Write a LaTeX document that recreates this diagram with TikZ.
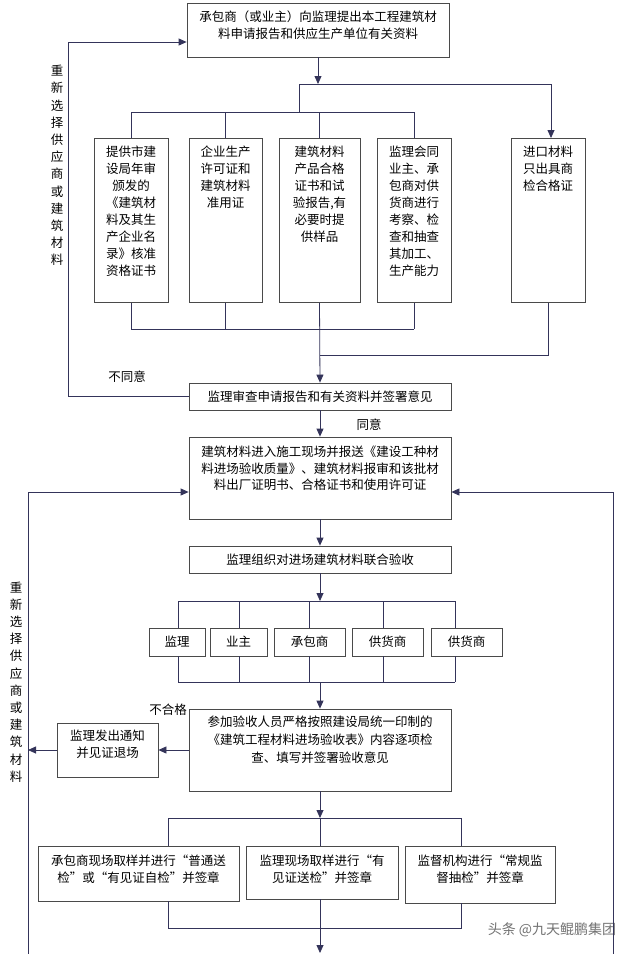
\documentclass[tikz,border=0pt]{standalone}
\usepackage{fontspec}
\newfontfamily\cjk{Noto Sans CJK SC}
\usetikzlibrary{positioning,arrows.meta}

\definecolor{linec}{HTML}{34345A}
\definecolor{boxc}{HTML}{4A4A4A}

\tikzset{
    box/.style={draw=boxc, line width=0.8pt, inner sep=0pt, align=center,
        font=\cjk\fontsize{12.5}{16.5}\selectfont},
    txt/.style={inner sep=0pt, align=center, font=\cjk\fontsize{12.5}{16.5}\selectfont},
    talltxt/.style={txt, font=\cjk\fontsize{12.5}{17}\selectfont},
    vtxt/.style={txt, font=\cjk\fontsize{12.5}{17.2}\selectfont},
    line/.style={draw=linec, line width=0.8pt},
    arr/.style={line, -{Triangle[length=8pt,width=7pt]}}
}

\begin{document}
\begin{tikzpicture}[x=1pt, y=-1pt]
    \fill[white] (0,0) rectangle (636,954);
    \useasboundingbox (0,0) rectangle (636,954);

    % application
    \node[box, minimum width=262, minimum height=54] (apply) at (318,30) {};
    \node[txt, below=8pt of apply.north] {承包商（或业主）向监理提出本工程建筑材\\料申请报告和供应生产单位有关资料};

    % documents to hand in
    \foreach \n/\x/\w in {p1/131/74, p2/225.5/73, p3/319.5/81, p4/414/74, p5/548/74} {
        \node[box, minimum width=\w, minimum height=164, anchor=north] (\n) at (\x,138) {};
    }
    \node[talltxt, below=8pt of p1.north] {提供市建\\设局年审\\颁发的\\《建筑材\\料及其生\\产企业名\\录》核准\\资格证书};
    \node[talltxt, below=8pt of p2.north] {企业生产\\许可证和\\建筑材料\\准用证};
    \node[talltxt, below=8pt of p3.north] {建筑材料\\产品合格\\证书和试\\验报告,有\\必要时提\\供样品};
    \node[talltxt, below=8pt of p4.north] {监理会同\\业主、承\\包商对供\\货商进行\\考察、检\\查和抽查\\其加工、\\生产能力};
    \node[talltxt, below=8pt of p5.north] {进口材料\\只出具商\\检合格证};

    % review
    \node[box, minimum width=262, minimum height=27] (review) at (320,396.5) {监理审查申请报告和有关资料并签署意见};
    \node[txt] at (127,377) {不同意};
    \node[txt] at (369,425) {同意};

    % entering the site
    \node[box, minimum width=262, minimum height=82] (enter) at (320,478) {};
    \node[txt, below=9.5pt of enter.north] {建筑材料进入施工现场并报送《建设工种材\\料进场验收质量》、建筑材料报审和该批材\\料出厂证明书、合格证书和使用许可证};

    \node[box, minimum width=262, minimum height=27] (joint) at (320,559.5) {监理组织对进场建筑材料联合验收};

    % parties
    \node[box, minimum width=56, minimum height=28] (q1) at (177,642) {监理};
    \node[box, minimum width=57, minimum height=28] (q2) at (238.5,642) {业主};
    \node[box, minimum width=71, minimum height=28] (q3) at (309.5,642) {承包商};
    \node[box, minimum width=71, minimum height=28] (q4) at (387.5,642) {供货商};
    \node[box, minimum width=71, minimum height=28] (q5) at (466.5,642) {供货商};

    % inspection
    \node[box, minimum width=262, minimum height=82] (inspect) at (320,750) {};
    \node[txt, below=7.5pt of inspect.north, font=\cjk\fontsize{12.5}{18}\selectfont] {参加验收人员严格按照建设局统一印制的\\《建筑工程材料进场验收表》内容逐项检\\查、填写并签署验收意见};
    \node[txt] at (168,710) {不合格};
    \node[box, minimum width=101, minimum height=54] (notice) at (107.5,750) {};
    \node[txt, below=7.5pt of notice.north] {监理发出通知\\并见证退场};

    % sampling
    \node[box, minimum width=201, minimum height=55] (r1) at (138.5,873.5) {};
    \node[txt, below=9.5pt of r1.north] {承包商现场取样并进行“普通送\\检”或“有见证自检”并签章};
    \node[box, minimum width=152, minimum height=53] (r2) at (322,872.5) {};
    \node[txt, below=9.5pt of r2.north] {监理现场取样进行“有\\见证送检”并签章};
    \node[box, minimum width=150, minimum height=57] (r3) at (480,874.5) {};
    \node[txt, below=9.5pt of r3.north] {监督机构进行“常规监\\督抽检”并签章};

    % side labels
    \node[vtxt] (relabA) at (57,165.5) {重\\新\\选\\择\\供\\应\\商\\或\\建\\筑\\材\\料};
    \node[vtxt] (relabB) at (16,682) {重\\新\\选\\择\\供\\应\\商\\或\\建\\筑\\材\\料};

    \node[font=\cjk\fontsize{14}{14}\selectfont, text=black!55, inner sep=0pt] (mark) at (552,930) {头条 @九天鲲鹏集团};

    % junctions
    \coordinate (ta) at (299,84);
    \coordinate (tb) at (551,84);
    \coordinate (tc) at (299,112);
    \coordinate (ba) at (0,329);
    \coordinate (bb) at (548,355);
    \coordinate (lt) at (68,42);
    \coordinate (ll) at (28,954);
    \coordinate (rl) at (613,954);
    \coordinate (ja) at (178,601);
    \coordinate (jb) at (455,601);
    \coordinate (ka) at (178,682);
    \coordinate (kb) at (455,682);
    \coordinate (ma) at (168,818);
    \coordinate (mb) at (461,818);
    \coordinate (na) at (168,928);
    \coordinate (nb) at (461,928);
    \coordinate (bot) at (0,953);

    % connectors
    \draw[arr] (apply.south) -- (apply.south |- ta);
    \draw[line] (ta) -- (tb);
    \draw[arr] (tb) -- (tb |- p5.north);
    \draw[line] (ta) -- (tc);
    \draw[line] (p1.north |- tc) -- (p4.north |- tc);
    \foreach \n in {p1, p2, p3, p4} {
        \draw[line] (\n.north |- tc) -- (\n.north);
    }
    \draw[line] (p1.south |- ba) -- (p4.south |- ba);
    \foreach \n in {p1, p2, p4} {
        \draw[line] (\n.south) -- (\n.south |- ba);
    }
    \draw[line] (p5.south) -- (p5.south |- bb) -- (p3.south |- bb);
    \draw[arr] (p3.south) -- (review.north);

    \draw[arr] (review.west) -| (lt) -- (apply.west |- lt);
    \draw[arr] (review.south) -- (enter.north);

    \draw[arr] (ll) |- ([yshift=-14pt]enter.west);
    \draw[arr] (rl) |- ([yshift=-14pt]enter.east);
    \draw[arr] (enter.south) -- (joint.north);

    \draw[arr] (joint.south) -- (joint.south |- ja);
    \draw[line] (ja) -- (jb);
    \draw[line] (ka) -- (kb);
    \foreach \n/\dx in {q1/1, q2/0.5, q3/-0.5, q4/-4.5, q5/-11.5} {
        \draw[line] ([xshift=\dx pt]\n.north |- ja) -- ([xshift=\dx pt]\n.north);
        \draw[line] ([xshift=\dx pt]\n.south) -- ([xshift=\dx pt]\n.south |- ka);
    }
    \draw[arr] (inspect.north |- ka) -- (inspect.north);

    \draw[arr] (inspect.west) -- (notice.east);
    \draw[arr] (notice.west) -- (notice.west -| ll);

    \draw[arr] (inspect.south) -- (inspect.south |- ma);
    \draw[line] (ma) -- (mb);
    \draw[line] (ma) -- (ma |- r1.north);
    \draw[line] (inspect.south |- ma) -- (inspect.south |- r2.north);
    \draw[line] (mb) -- (mb |- r3.north);
    \draw[line] (na |- r1.south) -- (na) -- (nb) -- (nb |- r3.south);
    \draw[arr] (inspect.south |- r2.south) -- (inspect.south |- bot);
\end{tikzpicture}
\end{document}
